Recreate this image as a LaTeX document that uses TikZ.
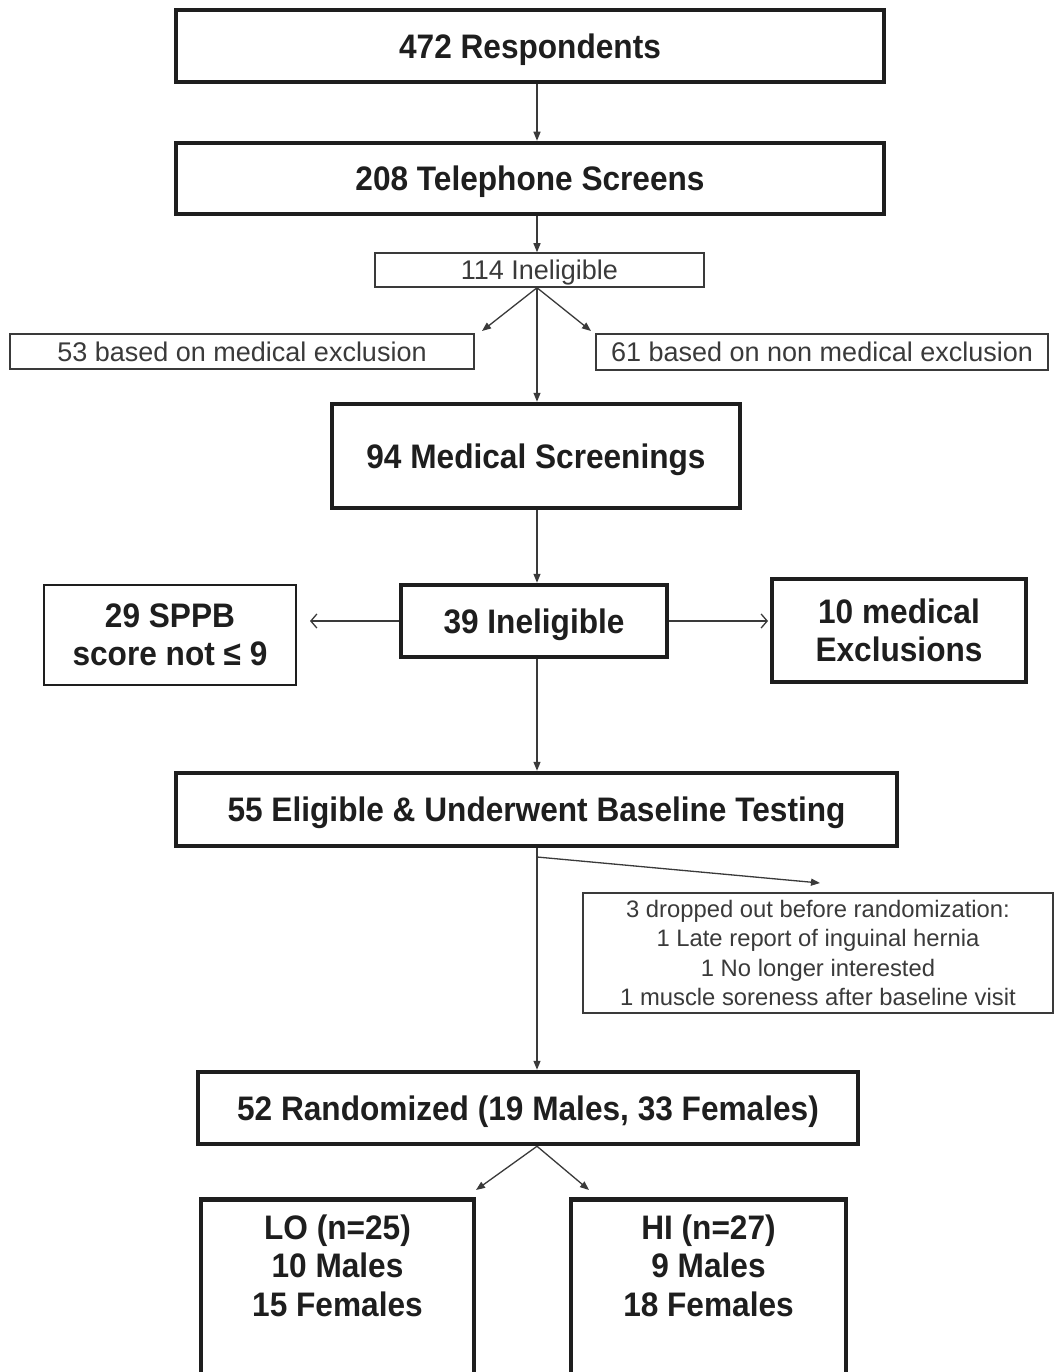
\documentclass[tikz,border=0pt]{standalone}
\usepackage{fontspec}
\setmainfont{Liberation Sans}
\newfontfamily\condfont[FakeStretch=0.93]{Liberation Sans}
\usetikzlibrary{arrows.meta}
\definecolor{ink}{HTML}{1E1E1E}
\definecolor{lite}{HTML}{3A3A3A}
\newcommand\mainfnt{\condfont\fontsize{34pt}{38.5pt}\selectfont\bfseries}
\newcommand\smallfnt{\fontsize{27pt}{30pt}\selectfont}
\newcommand\dropfnt{\fontsize{23.8pt}{29.5pt}\selectfont}
\begin{document}
\begin{tikzpicture}[x=1pt,y=-1pt,
  bigbox/.style={draw=ink, line width=4.5pt, fill=white, text=ink, font=\mainfnt, align=center, inner sep=0pt},
  midbox/.style={bigbox, line width=2.5pt},
  thinbox/.style={draw=lite, line width=1.5pt, fill=white, text=lite, font=\smallfnt, align=center, inner sep=0pt},
  oneline/.style={text height=24.3pt, text depth=0pt},
  smallline/.style={text height=19.3pt, text depth=0pt},
  txt/.style={text=ink, font=\mainfnt, align=center, inner sep=0pt},
  arr/.style={draw=lite, line width=1.3pt, -{Triangle[length=9pt,width=7pt]}},
  openarr/.style={draw=lite, line width=1.3pt, -{Straight Barb[length=6pt,width=14pt]}}]
\clip (0,0) rectangle (1055,1372);
\fill[white] (0,0) rectangle (1055,1372);
\coordinate (sp) at (537,0);

\node[bigbox, oneline, minimum width=708pt, minimum height=72pt] (resp) at (530,46) {472 Respondents};
\node[bigbox, oneline, minimum width=708pt, minimum height=71pt] (tel) at (530,178.5) {208 Telephone Screens};
\node[thinbox, smallline, minimum width=329pt, minimum height=34pt] (i114) at (539.5,270) {114 Ineligible};
\node[thinbox, smallline, minimum width=464pt, minimum height=35pt] (m53) at (242,351.5) {53 based on medical exclusion};
\node[thinbox, smallline, minimum width=452pt, minimum height=36pt] (n61) at (822,352) {61 based on non medical exclusion};
\node[bigbox, oneline, minimum width=408pt, minimum height=104pt] (scr) at (536,456) {94 Medical Screenings};
\node[bigbox, oneline, minimum width=266pt, minimum height=72pt] (i39) at (534,621) {39 Ineligible};
\node[midbox, minimum width=252pt, minimum height=100pt] (sppb) at (170,635) {29 SPPB\\score not ≤ 9};
\node[bigbox, minimum width=254pt, minimum height=103pt] (medx) at (899,630.5) {10 medical\\Exclusions};
\node[bigbox, oneline, minimum width=721pt, minimum height=73pt] (e55) at (536.5,809.5) {55 Eligible \& Underwent Baseline Testing};
\node[thinbox, font=\dropfnt, minimum width=470pt, minimum height=120pt] (drop) at (818,953) {3 dropped out before randomization:\\1 Late report of inguinal hernia\\1 No longer interested\\1 muscle soreness after baseline visit};
\node[bigbox, oneline, minimum width=660pt, minimum height=72pt] (r52) at (528,1108) {52 Randomized (19 Males, 33 Females)};
\node[bigbox, minimum width=273pt, minimum height=240pt, anchor=north] (lo) at (337.5,1197) {};
\node[txt] (lot) at (337.5,1265.5) {LO (n=25)\\10 Males\\15 Females};
\node[bigbox, minimum width=275pt, minimum height=240pt, anchor=north] (hi) at (708.5,1197) {};
\node[txt] (hit) at (708.5,1265.5) {HI (n=27)\\9 Males\\18 Females};

\coordinate (t53) at (482,331);
\coordinate (t61) at (591,331);
\coordinate (tsppb) at (310,621);
\coordinate (tmed) at (768,621);
\coordinate (br) at (537,857);
\coordinate (tdrop) at (820,883);
\coordinate (tlo) at (476,1190);
\coordinate (thi) at (589,1190);

\draw[arr] (resp.south -| sp) -- (tel.north -| sp);
\draw[arr] (tel.south -| sp) -- (i114.north -| sp);
\draw[arr] (i114.south -| sp) -- (scr.north -| sp);
\draw[arr] (i114.south -| sp) -- (t53);
\draw[arr] (i114.south -| sp) -- (t61);
\draw[arr] (scr.south -| sp) -- (i39.north -| sp);
\draw[openarr] (i39.west) -- (tsppb);
\draw[openarr] (i39.east) -- (tmed);
\draw[arr] (i39.south -| sp) -- (e55.north -| sp);
\draw[arr] (e55.south -| sp) -- (r52.north -| sp);
\draw[arr] (br) -- (tdrop);
\draw[arr] (r52.south -| sp) -- (tlo);
\draw[arr] (r52.south -| sp) -- (thi);
\end{tikzpicture}
\end{document}
